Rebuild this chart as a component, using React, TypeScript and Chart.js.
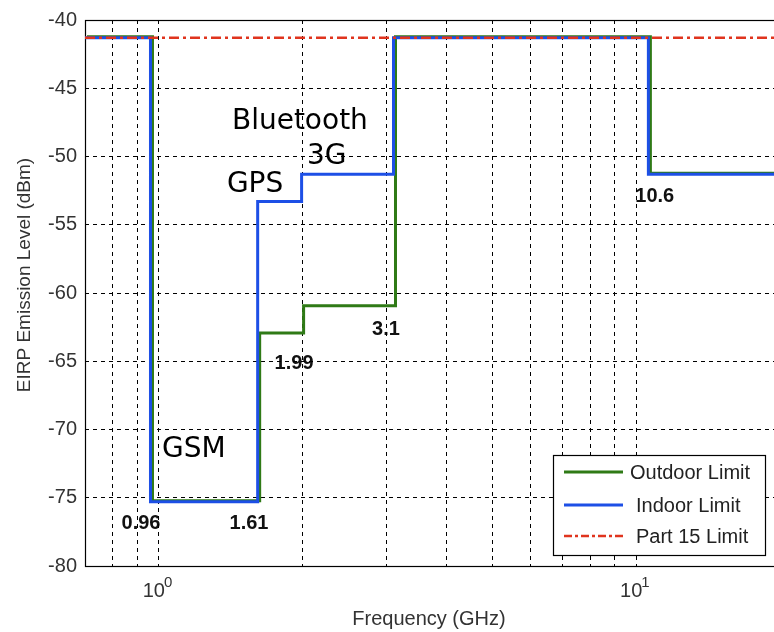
import React, { useEffect, useRef } from 'react';
import { Chart, registerables } from 'chart.js';

Chart.register(...registerables);

// ---- data ----
const bandEdges = [0.7, 0.96, 1.61, 1.99, 3.1, 10.6, 20];
const outdoorLevels = [-41.3, -75.3, -63.0, -61.0, -41.3, -51.3];
const indoorLevels = [-41.3, -75.3, -53.3, -51.3, -41.3, -51.3];
const part15Level = -41.3;
const xMin = 0.7;
const xMax = 20;
const yMin = -80;
const yMax = -40;
const yStep = 5;
const xGridValues = [0.8, 0.9, 1, 2, 3, 4, 5, 6, 7, 8, 9, 10];
const xMajorValues = [1, 10];
const xMajorExponents = ['0', '1'];
const seriesNames = ['Outdoor Limit', 'Indoor Limit', 'Part 15 Limit'];
const edgeLabelTexts = ['0.96', '1.61', '1.99', '3.1', '10.6'];
const edgeLabelFreqs = [0.917, 1.544, 1.919, 2.989, 10.93];
const edgeLabelLevels = [-76.87, -76.87, -65.14, -62.66, -52.9];
const bandNames = ['GSM', 'GPS', '3G', 'Bluetooth'];
const bandNameFreqs = [1.015, 1.388, 2.043, 1.422];
const bandNameLevels = [-72.0, -52.6, -50.56, -48.0];

const GREEN = '#2f7a16';
const BLUE = '#1d4fe6';
const RED = '#e0341e';
const SANS = '"Liberation Sans", Arial, sans-serif';

function stepPoints(levels: number[]) {
  const pts = levels.map((l, i) => ({ x: bandEdges[i], y: l }));
  pts.push({ x: bandEdges[bandEdges.length - 1], y: levels[levels.length - 1] });
  return pts;
}

const offsetPlugin = {
  id: 'greenOffset',
  beforeDatasetDraw(chart: any, args: any) {
    if (args.index === 0) {
      chart.ctx.save();
      chart.ctx.translate(2, -1);
    }
  },
  afterDatasetDraw(chart: any, args: any) {
    if (args.index === 0) chart.ctx.restore();
  },
};

const underTextPlugin = {
  id: 'underText',
  beforeDraw(chart: any) {
    const { ctx, scales } = chart;
    const x = scales.x;
    const y = scales.y;
    ctx.save();
    ctx.fillStyle = '#000';
    ctx.font = '28px "DejaVu Sans", sans-serif';
    ctx.textAlign = 'left';
    ctx.textBaseline = 'alphabetic';
    bandNames.forEach((t, i) => {
      ctx.fillText(t, x.getPixelForValue(bandNameFreqs[i]), y.getPixelForValue(bandNameLevels[i]));
    });
    ctx.font = `bold 20px ${SANS}`;
    ctx.fillStyle = '#111';
    ctx.textAlign = 'center';
    ctx.textBaseline = 'middle';
    edgeLabelTexts.forEach((t, i) => {
      ctx.fillText(t, x.getPixelForValue(edgeLabelFreqs[i]), y.getPixelForValue(edgeLabelLevels[i]));
    });
    ctx.restore();
  },
  beforeDatasetsDraw(chart: any) {
    const { ctx, chartArea: a } = chart;
    ctx.save();
    ctx.strokeStyle = '#000';
    ctx.lineWidth = 1.2;
    ctx.setLineDash([]);
    ctx.strokeRect(a.left + 0.5, a.top + 0.5, a.right - a.left, a.bottom - a.top);
    ctx.restore();
  },
  afterDraw(chart: any) {
    const { ctx, chartArea: a, scales } = chart;
    const x = scales.x;
    ctx.save();
    // x tick labels 10^n
    ctx.fillStyle = '#333';
    xMajorValues.forEach((v, i) => {
      const gx = x.getPixelForValue(v);
      ctx.font = `20px ${SANS}`;
      ctx.textAlign = 'right';
      ctx.textBaseline = 'middle';
      ctx.fillText('10', gx + 6, a.bottom + 25);
      ctx.font = `15px ${SANS}`;
      ctx.textAlign = 'left';
      ctx.fillText(xMajorExponents[i], gx + 5, a.bottom + 17);
    });
    // axis titles
    ctx.font = `20px ${SANS}`;
    ctx.textAlign = 'center';
    ctx.textBaseline = 'middle';
    ctx.fillText('Frequency (GHz)', 429, a.bottom + 53);
    ctx.save();
    ctx.translate(25, 275);
    ctx.rotate(-Math.PI / 2);
    ctx.font = `19px ${SANS}`;
    ctx.fillText('EIRP Emission Level (dBm)', 0, 0);
    ctx.restore();

    // legend
    const lr = a.right - 15;
    const lb = a.bottom - 11;
    const lw = 212;
    const lh = 100;
    const lx = lr - lw;
    const ly = lb - lh;
    ctx.fillStyle = '#fff';
    ctx.fillRect(lx, ly, lw, lh);
    ctx.strokeStyle = '#000';
    ctx.lineWidth = 1.2;
    ctx.strokeRect(lx + 0.5, ly + 0.5, lw, lh);
    const colors = [GREEN, BLUE, RED];
    const rows = [17, 50, 81];
    const textX = [77, 83, 83];
    rows.forEach((dy, i) => {
      const yy = ly + dy;
      ctx.beginPath();
      ctx.strokeStyle = colors[i];
      ctx.lineWidth = i === 2 ? 2.5 : 3;
      ctx.setLineDash(i === 2 ? [8, 3, 3, 3] : []);
      ctx.moveTo(lx + 11, yy);
      ctx.lineTo(lx + 70, yy);
      ctx.stroke();
      ctx.setLineDash([]);
      ctx.fillStyle = '#222';
      ctx.font = `20px ${SANS}`;
      ctx.textAlign = 'left';
      ctx.textBaseline = 'middle';
      ctx.fillText(seriesNames[i], lx + textX[i], yy + 1);
    });
    ctx.restore();
  },
};

export default function App() {
  const ref = useRef<HTMLCanvasElement>(null);
  useEffect(() => {
    if (!ref.current) return;
    const gridOpts = { color: '#000', lineWidth: 1, drawTicks: false };
    const chart = new Chart(ref.current, {
      type: 'scatter',
      data: {
        datasets: [
          {
            label: seriesNames[0],
            data: stepPoints(outdoorLevels),
            showLine: true,
            stepped: true,
            borderColor: GREEN,
            backgroundColor: GREEN,
            borderWidth: 3,
            pointRadius: 0,
            order: 2,
          },
          {
            label: seriesNames[1],
            data: stepPoints(indoorLevels),
            showLine: true,
            stepped: true,
            borderColor: BLUE,
            backgroundColor: BLUE,
            borderWidth: 3,
            pointRadius: 0,
            order: 1,
          },
          {
            label: seriesNames[2],
            data: [
              { x: xMin, y: part15Level },
              { x: xMax, y: part15Level },
            ],
            showLine: true,
            borderColor: RED,
            backgroundColor: RED,
            borderWidth: 2.5,
            borderDash: [10, 4, 3, 4],
            pointRadius: 0,
            order: 0,
          },
        ],
      } as any,
      options: {
        responsive: false,
        animation: false,
        layout: { padding: { top: 17, right: 20, left: 0, bottom: 0 } },
        plugins: { legend: { display: false }, tooltip: { enabled: false } },
        scales: {
          x: {
            type: 'logarithmic',
            min: xMin,
            max: xMax,
            afterBuildTicks: (s: any) => {
              s.ticks = xGridValues.map((v) => ({ value: v }));
            },
            afterFit: (s: any) => {
              s.height = 66;
            },
            ticks: { display: false },
            grid: gridOpts,
            border: { display: false, dash: [4, 4] },
          },
          y: {
            min: yMin,
            max: yMax,
            afterFit: (s: any) => {
              s.width = 85;
            },
            ticks: {
              stepSize: yStep,
              color: '#333',
              padding: 8,
              font: { family: SANS, size: 20 },
            },
            grid: gridOpts,
            border: { display: false, dash: [4, 4] },
          },
        },
      } as any,
      plugins: [offsetPlugin, underTextPlugin],
    });
    return () => chart.destroy();
  }, []);
  return (
    <div
      style={{
        position: 'fixed',
        left: 0,
        top: 0,
        width: 774,
        height: 632,
        overflow: 'hidden',
        background: '#fff',
      }}
    >
      <canvas ref={ref} width={800} height={632} style={{ display: 'block' }} />
    </div>
  );
}
